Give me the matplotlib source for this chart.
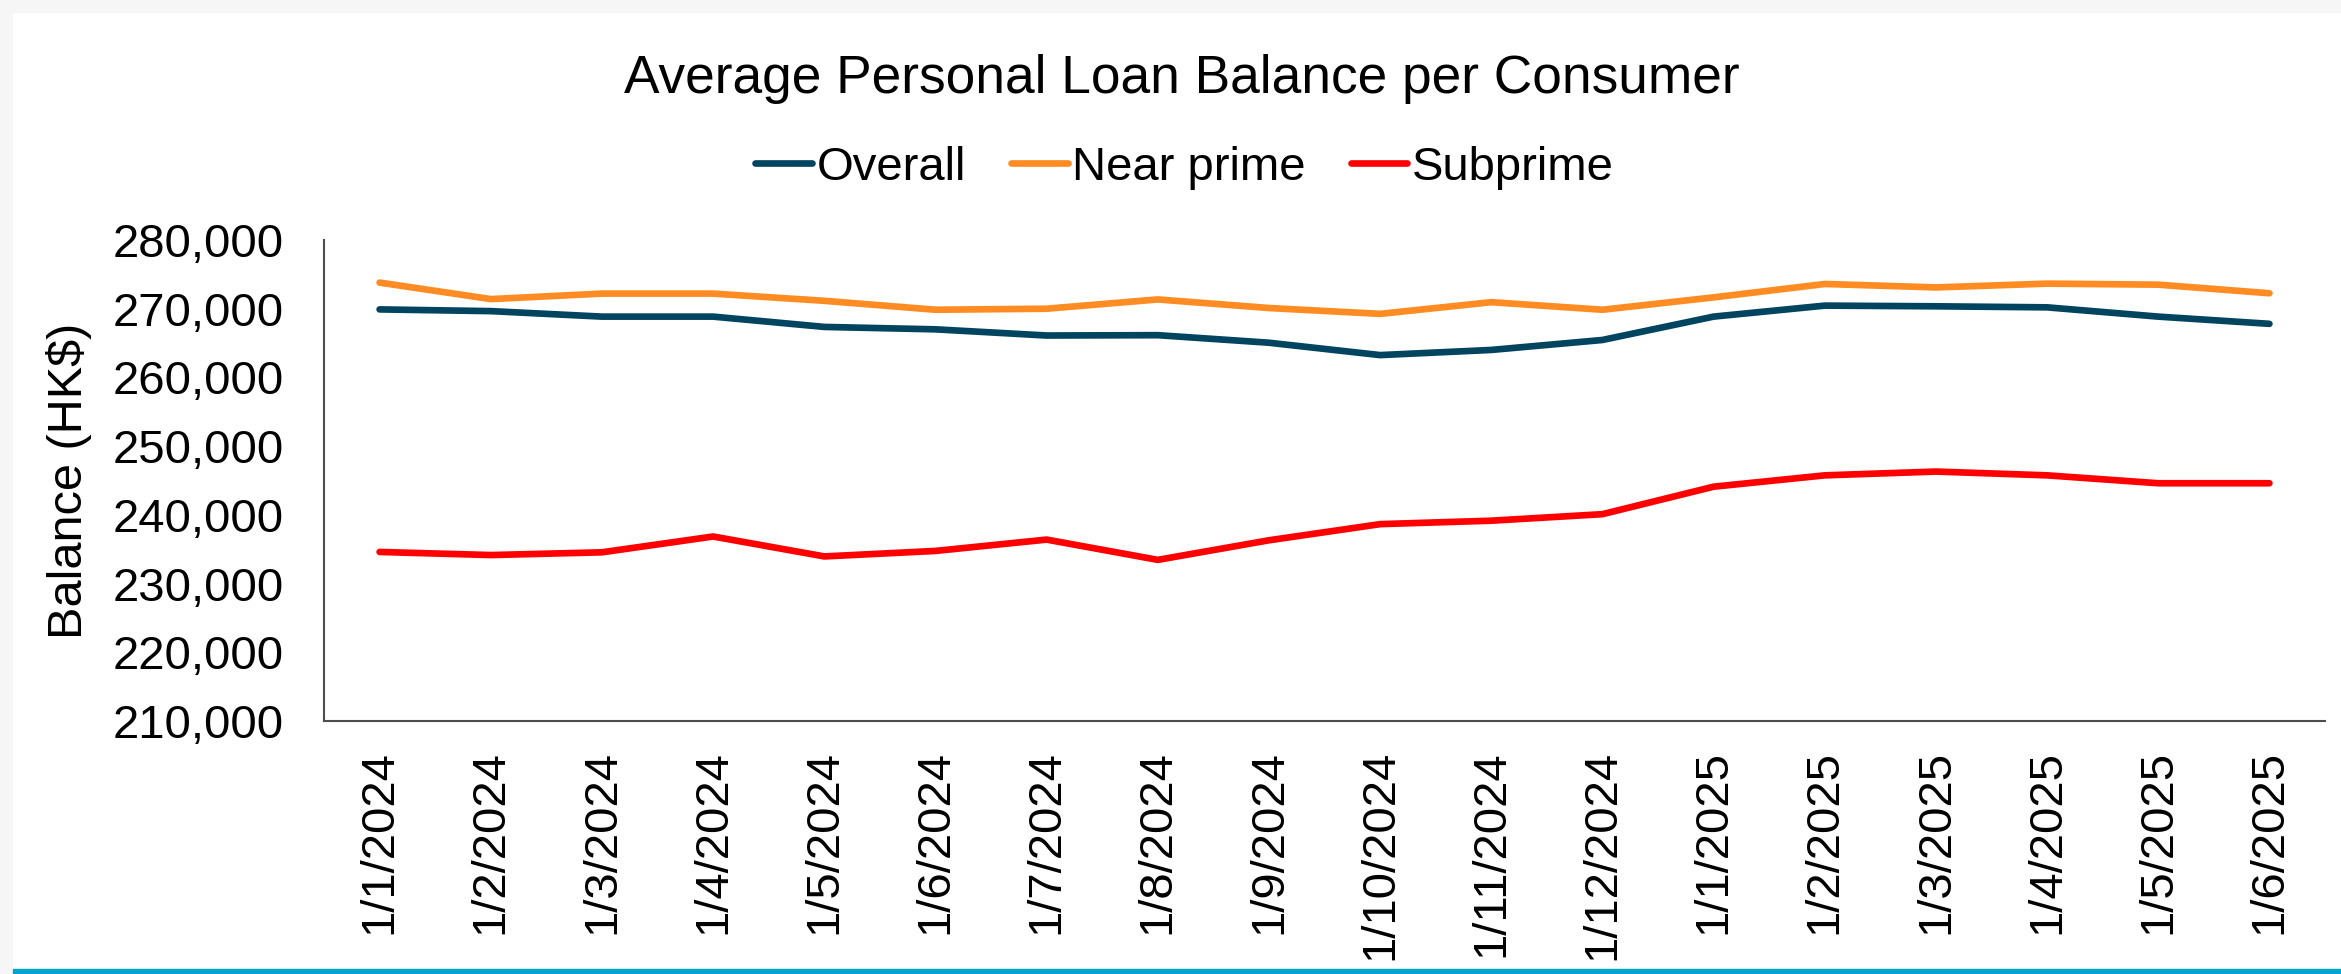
import matplotlib
matplotlib.use("Agg")
import matplotlib.pyplot as plt
from matplotlib.patches import Rectangle

plt.rcParams['font.family'] = ['Liberation Sans', 'DejaVu Sans']

# monthly snapshots, Jan 2024 - Jun 2025
months = ["1/1/2024", "1/2/2024", "1/3/2024", "1/4/2024", "1/5/2024", "1/6/2024",
          "1/7/2024", "1/8/2024", "1/9/2024", "1/10/2024", "1/11/2024", "1/12/2024",
          "1/1/2025", "1/2/2025", "1/3/2025", "1/4/2025", "1/5/2025", "1/6/2025"]

overall = [269900, 269650, 268850, 268850, 267350, 267000, 266100, 266150, 265050,
           263250, 264000, 265450, 268850, 270450, 270350, 270200, 268850, 267800]
near_prime = [273800, 271400, 272200, 272200, 271150, 269850, 270000, 271350, 270100,
              269250, 270950, 269850, 271650, 273600, 273100, 273650, 273500, 272250]
subprime = [234600, 234150, 234550, 236850, 233950, 234750, 236400, 233450, 236300,
            238650, 239150, 240100, 244100, 245750, 246300, 245750, 244600, 244600]

W, H = 2341, 974
fig = plt.figure(figsize=(W / 100, H / 100), dpi=100)
fig.patch.set_facecolor("white")

# light frame on top/left and the teal rule along the bottom
fig.patches.append(Rectangle((0, 1 - 12 / H), 1, 12 / H, transform=fig.transFigure,
                             color="#f6f6f6", zorder=0))
fig.patches.append(Rectangle((0, 0), 12 / W, 1, transform=fig.transFigure,
                             color="#f6f6f6", zorder=0))
fig.patches.append(Rectangle((13 / W, 0), 1, 5 / H, transform=fig.transFigure,
                             color="#00a6ca", zorder=1))

ax = fig.add_axes([324 / W, 1 - 721 / H, (2325 - 324) / W, (721 - 240) / H])

x = range(len(months))
ax.plot(x, overall, color="#00445f", lw=4.8, label="Overall", solid_capstyle="round")
ax.plot(x, near_prime, color="#ff8c22", lw=4.8, label="Near prime", solid_capstyle="round")
ax.plot(x, subprime, color="#ff0000", lw=4.8, label="Subprime", solid_capstyle="round")

ax.set_xlim(-0.5, len(months) - 0.5)
ax.set_ylim(210000, 280000)
ax.set_yticks(range(210000, 280001, 10000))
ax.set_yticklabels([f"{v:,}" for v in range(210000, 280001, 10000)])
ax.set_xticks(list(x))
ax.set_xticklabels(months, rotation=90)

ax.tick_params(axis="both", length=0, labelsize=34)
ax.tick_params(axis="y", pad=29)
ax.tick_params(axis="x", pad=21)

for side in ["top", "right"]:
    ax.spines[side].set_visible(False)
for side in ["left", "bottom"]:
    ax.spines[side].set_color("#4d4d4d")
    ax.spines[side].set_linewidth(1.5)

ax.set_ylabel("Balance (HK$)", fontsize=35)
ax.yaxis.set_label_coords(-0.116, 0.5)

fig.text(0.505, 1 - 79 / H, "Average Personal Loan Balance per Consumer",
         ha="center", va="center", fontsize=38.3)
fig.legend(loc="center", bbox_to_anchor=(0.506, 1 - 168 / H), ncol=3, frameon=False,
           fontsize=34, handlelength=1.2, handletextpad=0.1, columnspacing=0.95)

fig.savefig("out.png", dpi=100)
